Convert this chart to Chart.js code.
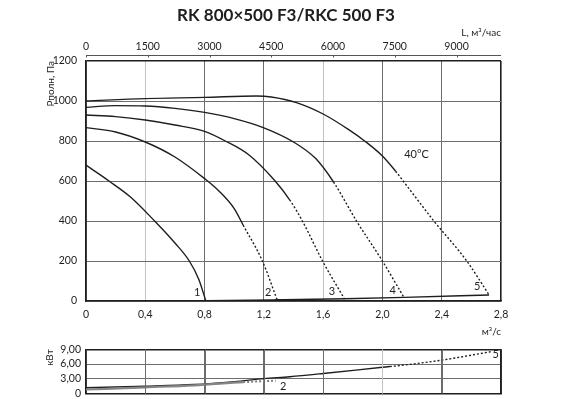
<!DOCTYPE html>
<html>
<head>
<meta charset="utf-8">
<script src="https://cdn.jsdelivr.net/npm/chart.js@4"></script>
<style>
  html, body { margin: 0; padding: 0; background: #fff; overflow: hidden; }
  #wrap { position: relative; width: 572px; height: 399px; overflow: hidden; }
  #main { position: absolute; left: 0; top: 0; }
  #power { position: absolute; left: 0; top: 338px; }
</style>
</head>
<body>
<div id="wrap">
  <canvas id="main" width="572" height="338"></canvas>
  <canvas id="power" width="572" height="67"></canvas>
</div>
<script>
// axis ticks
const flowTicks = [0, 0.4, 0.8, 1.2, 1.6, 2.0, 2.4, 2.8];      // m3/s
const hourTicks = [0, 1500, 3000, 4500, 6000, 7500, 9000];     // m3/h
const pressureTicks = [0, 200, 400, 600, 800, 1000, 1200];     // Pa
const powerTicks = [0, 3, 6, 9];                               // kW

// pressure curves [flow m3/s, Pa], solid up to *Solid, dotted after
const curve1 = [[0, 679], [0.155, 600], [0.3, 520], [0.463, 400], [0.6, 290], [0.697, 200], [0.76, 110], [0.808, 2]];
const curve1Solid = 0.81;
const curve2 = [[0, 867], [0.2, 845], [0.4, 795], [0.6, 720], [0.8, 612], [0.9, 548], [1.0, 462], [1.06, 380], [1.19, 200], [1.29, 5]];
const curve2Solid = 1.06;
const curve3 = [[0, 930], [0.2, 922], [0.4, 905], [0.6, 880], [0.8, 848], [0.94, 800], [1.1, 730], [1.276, 600], [1.374, 506], [1.46, 400], [1.596, 200], [1.744, 10]];
const curve3Solid = 1.374;
const curve4 = [[0, 968], [0.2, 977], [0.4, 975], [0.6, 963], [0.8, 943], [1.0, 912], [1.2, 866], [1.4, 795], [1.55, 712], [1.67, 595], [1.825, 400], [2.0, 200], [2.145, 18]];
const curve4Solid = 1.67;
const curve5 = [[0, 1000], [0.4, 1012], [0.8, 1018], [1.15, 1025], [1.25, 1020], [1.42, 992], [1.6, 935], [1.77, 858], [1.88, 800], [2.0, 725], [2.089, 649], [2.14, 600], [2.347, 400], [2.569, 200], [2.72, 30]];
const curve5Solid = 2.089;
const systemLine = [[0, 0], [0.81, 2], [1.29, 6], [1.745, 11], [2.15, 18], [2.72, 30]];

// power curves [flow m3/s, kW]
const power2 = [[0, 0.85], [0.4, 1.3], [0.73, 1.7], [1.06, 2.35], [1.28, 2.65]];
const power2Solid = 1.06;
const power5 = [[0, 1.2], [0.4, 1.5], [0.73, 1.85], [1.0, 2.45], [1.2, 3.05], [1.375, 3.45], [1.6, 4.1], [2.0, 5.35], [2.05, 5.5], [2.2, 6.0], [2.4, 6.8], [2.73, 8.5]];
const power5Solid = 2.05;

// text notes placed in data units
const pressureNotes = [['1', 0.75, 45], ['2', 1.23, 45], ['3', 1.66, 50], ['4', 2.07, 55], ['5', 2.64, 75], ['40°C', 2.23, 735]];
const powerNotes = [['2', 1.33, 1.5], ['5', 2.765, 7.9]];

const FONT = 'Lato, "DejaVu Sans", sans-serif';
const INK = '#1e1e1e';
const GRID = '#6c6c6c';
const GRID_LIGHT = '#c2c2c2';

const comma = (v, d) => v === 0 ? '0' : v.toFixed(d).replace('.', ',');
const near = (a, b) => Math.abs(a - b) < 1e-6;
const pts = arr => arr.map(([x, y]) => ({ x, y }));

function curve(arr, solidTo, color, width) {
  return {
    data: pts(arr),
    borderColor: color || INK,
    borderWidth: width || 1.4,
    pointRadius: 0,
    fill: false,
    cubicInterpolationMode: 'monotone',
    segment: {
      borderDash: ctx => ctx.p0.parsed.x >= solidTo - 1e-6 ? [2, 2] : undefined
    }
  };
}

// empty axis on the right that only reserves the space right of the plot
function spacer() {
  return {
    type: 'linear',
    position: 'right',
    min: 0,
    max: 1,
    afterFit: s => { s.width = 71; },
    ticks: { display: false },
    grid: { display: false, drawTicks: false },
    border: { display: false }
  };
}

function notesPlugin(id) {
  return {
    id,
    afterDatasetsDraw(chart, args, opts) {
      const { ctx, scales } = chart;
      ctx.save();
      ctx.fillStyle = INK;
      ctx.font = '11px ' + FONT;
      ctx.textAlign = 'center';
      ctx.textBaseline = 'middle';
      opts.items.forEach(([t, x, y]) => {
        ctx.fillText(t, scales.x.getPixelForValue(x), scales.y.getPixelForValue(y));
      });
      ctx.restore();
    }
  };
}

// line for the top (m3/h) axis, a few px above the plot frame
const topAxisPlugin = {
  id: 'topAxis',
  afterDraw(chart) {
    const s = chart.scales.x2;
    if (!s) return;
    const ctx = chart.ctx;
    const y = Math.round(s.bottom - 6) + 0.5;
    ctx.save();
    ctx.strokeStyle = '#555';
    ctx.lineWidth = 1;
    ctx.beginPath();
    ctx.moveTo(s.left, y);
    ctx.lineTo(s.right, y);
    hourTicks.forEach(v => {
      const x = Math.round(s.getPixelForValue(v)) + 0.5;
      ctx.moveTo(x, y);
      ctx.lineTo(x, y + 2);
    });
    ctx.stroke();
    ctx.restore();
  }
};

// vertical grid of the power chart, placed through its x scale
const flowGridPlugin = {
  id: 'flowGrid',
  afterDraw(chart) {
    const { ctx, chartArea, scales } = chart;
    const s = scales.x;
    ctx.save();
    flowTicks.forEach(v => {
      const edge = near(v, 2.8);
      if (near(v, 0)) return;
      const w = edge ? 1.6 : 1;
      const x = Math.round(s.getPixelForValue(v)) + (edge ? 0 : 0.5);
      ctx.strokeStyle = edge ? INK : near(v, 2.0) ? GRID_LIGHT : GRID;
      ctx.lineWidth = w;
      ctx.beginPath();
      ctx.moveTo(x, chartArea.top);
      ctx.lineTo(x, chartArea.bottom);
      ctx.stroke();
    });
    ctx.restore();
  }
};

const tickFont = { family: FONT, size: 10.5 };
const titleFont = { family: FONT, size: 10 };

new Chart(document.getElementById('main'), {
  type: 'line',
  data: {
    datasets: [
      curve(curve1, curve1Solid),
      curve(curve2, curve2Solid),
      curve(curve3, curve3Solid),
      curve(curve4, curve4Solid),
      curve(curve5, curve5Solid),
      curve(systemLine, 99)
    ]
  },
  options: {
    responsive: false,
    animation: false,
    layout: { padding: 0 },
    plugins: {
      legend: { display: false },
      tooltip: { enabled: false },
      title: {
        display: true,
        text: 'RK 800×500 F3/RKC 500 F3',
        color: INK,
        font: { family: FONT, size: 17, weight: 'bold' },
        padding: { top: 5, bottom: 0 }
      },
      notesMain: { items: pressureNotes }
    },
    scales: {
      x: {
        type: 'linear',
        position: 'bottom',
        min: 0,
        max: 2.8,
        afterBuildTicks: s => { s.ticks = flowTicks.map(value => ({ value })); },
        afterFit: s => { s.height = 37; },
        ticks: {
          color: INK,
          font: tickFont,
          padding: 7,
          maxRotation: 0,
          autoSkip: false,
          callback: v => comma(v, 1)
        },
        grid: {
          drawTicks: false,
          color: ctx => near(ctx.tick.value, 2.8) ? INK : (near(ctx.tick.value, 0.4) || near(ctx.tick.value, 1.6)) ? GRID_LIGHT : GRID,
          lineWidth: ctx => near(ctx.tick.value, 2.8) ? 1.6 : 1
        },
        border: { color: INK, width: 1.6 },
        title: {
          display: true,
          text: 'м³/с',
          align: 'end',
          color: INK,
          font: titleFont,
          padding: { top: 0, bottom: 0 }
        }
      },
      x2: {
        type: 'linear',
        position: 'top',
        min: 0,
        max: 10080,
        afterBuildTicks: s => { s.ticks = hourTicks.map(value => ({ value })); },
        afterFit: s => { s.height = 35.6; },
        ticks: {
          color: INK,
          font: tickFont,
          padding: 8,
          maxRotation: 0,
          autoSkip: false,
          callback: v => String(v)
        },
        grid: { display: false, drawTicks: false },
        border: { display: false },
        title: {
          display: true,
          text: 'L, м³/час',
          align: 'end',
          color: INK,
          font: titleFont,
          padding: { top: 1, bottom: 0 }
        }
      },
      y: {
        type: 'linear',
        min: 0,
        max: 1200,
        afterBuildTicks: s => { s.ticks = pressureTicks.map(value => ({ value })); },
        afterFit: s => { s.width = 86; },
        ticks: {
          color: INK,
          font: tickFont,
          padding: 9,
          autoSkip: false,
          callback: v => String(v)
        },
        grid: {
          drawTicks: false,
          color: ctx => near(ctx.tick.value, 1200) ? INK : GRID,
          lineWidth: ctx => near(ctx.tick.value, 1200) ? 1.6 : 1
        },
        border: { color: INK, width: 1.6 },
        title: {
          display: true,
          text: 'Рполн, Па',
          align: 'end',
          color: INK,
          font: titleFont,
          padding: { top: 45, bottom: 0 }
        }
      },
      yr: spacer()
    }
  },
  plugins: [notesPlugin('notesMain'), topAxisPlugin]
});

new Chart(document.getElementById('power'), {
  type: 'line',
  data: {
    datasets: [
      curve(power2, power2Solid, '#858585', 2.2),
      curve(power5, power5Solid)
    ]
  },
  options: {
    responsive: false,
    animation: false,
    layout: { padding: { left: 0, right: 0, top: 8, bottom: 0 } },
    plugins: {
      legend: { display: false },
      tooltip: { enabled: false },
      notesPower: { items: powerNotes }
    },
    scales: {
      x: {
        type: 'linear',
        position: 'bottom',
        min: 0,
        max: 2.8,
        afterBuildTicks: s => { s.ticks = flowTicks.map(value => ({ value })); },
        afterFit: s => { s.height = 6; },
        ticks: { display: false },
        grid: {
          drawTicks: false,
          color: ctx => near(ctx.tick.value, 2.8) ? INK : near(ctx.tick.value, 2.0) ? GRID_LIGHT : GRID,
          lineWidth: ctx => near(ctx.tick.value, 2.8) ? 1.6 : 1
        },
        border: { color: INK, width: 1.6 }
      },
      y: {
        type: 'linear',
        min: 0,
        max: 9,
        afterBuildTicks: s => { s.ticks = powerTicks.map(value => ({ value })); },
        afterFit: s => { s.width = 86; },
        ticks: {
          color: INK,
          font: tickFont,
          padding: 5,
          autoSkip: false,
          callback: v => comma(v, 2)
        },
        grid: {
          drawTicks: false,
          color: ctx => near(ctx.tick.value, 9) ? INK : GRID,
          lineWidth: ctx => near(ctx.tick.value, 9) ? 1.6 : 1
        },
        border: { color: INK, width: 1.6 },
        title: {
          display: true,
          text: 'кВт',
          align: 'end',
          color: INK,
          font: titleFont,
          padding: { top: 44, bottom: 0 }
        }
      },
      yr: spacer()
    }
  },
  plugins: [notesPlugin('notesPower'), flowGridPlugin]
});
</script>
</body>
</html>
